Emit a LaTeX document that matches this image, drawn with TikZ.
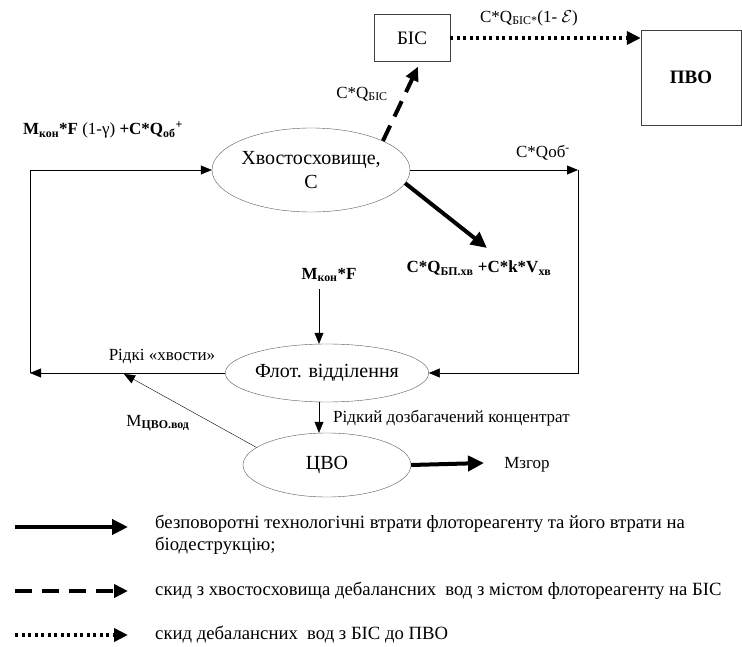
\documentclass[tikz,border=0pt]{standalone}
\usepackage{fontspec}
\setmainfont{Liberation Serif}
\usetikzlibrary{arrows.meta,shapes.geometric}

\begin{document}
\begin{tikzpicture}[x=1pt,y=-1pt,
	font=\fontsize{17}{21}\selectfont,
	>={Triangle[length=11pt,width=9pt]},
	unit/.style={
		% The shape:
		ellipse,
		% The border:
		draw=black!65,
		% Font
		font=\fontsize{20}{24}\selectfont,
		align=center, inner sep=0pt
		},
	plant/.style={
		% The shape:
		rectangle,
		% The border:
		draw=black!75,
		font=\fontsize{19}{23}\selectfont
		},
	lbl/.style={inner sep=0pt},
	key/.style={lbl, font=\fontsize{18.7}{21.5}\selectfont},
	% thick lines of the legend
	loss/.style={line width=4pt, -{Triangle[length=16pt,width=15pt]}},
	discharge/.style={line width=4pt, dash pattern=on 17pt off 10pt, -{Triangle[length=14pt,width=13pt]}},
	overflow/.style={line width=4pt, dash pattern=on 3pt off 3.5pt, -{Triangle[length=14pt,width=13pt]}}
	]

	\useasboundingbox (0,0) rectangle (742,647);

	\node (bis) [plant, minimum width=76pt, minimum height=47pt] at (412,38) {БІС};
	\node (pvo) [plant, minimum width=100pt, minimum height=95pt, font=\fontsize{19}{23}\selectfont\bfseries] at (691,77.5) {ПВО};
	\node (tail) [unit, minimum width=198pt, minimum height=84pt] at (311,170) {Хвостосховище,\\C};
	\node (flot) [unit, minimum width=170pt, minimum height=58pt] at (327,373) {Флот. відділення};
	\node (cvo) [unit, minimum width=168pt, minimum height=64pt] at (327,465) {ЦВО};

	% bends and free ends
	\coordinate (obend) at (578,170);
	\coordinate (leftbend) at (30,373);
	\coordinate (lossend) at (487,248);
	\coordinate (zgorend) at (484,463);
	\coordinate (tailsend) at (124,374);

	% labels
	\node (inflow) [lbl] at (103,130) {\textbf{M\textsubscript{кон}*F} (1-γ) \textbf{+C*Q\textsubscript{об}\textsuperscript{+}}};
	\node (qbis) [lbl] at (362,94) {C*Q\textsubscript{БІС}};
	\node (qpvo) [lbl] at (529,18) {C*Q\textsubscript{БІС*}(1- $\mathcal{E}$)};
	\node (qob) [lbl] at (543,153) {C*Qоб\textsuperscript{-}};
	\node (qloss) [lbl] at (479,268) {\textbf{C*Q\textsubscript{БП.хв} +C*k*V\textsubscript{хв}}};
	\node (mkon) [lbl] at (329,275) {\textbf{M\textsubscript{кон}*F}};
	\node (tails) [lbl] at (162,357) {Рідкі «хвости»};
	\node (mcvo) [lbl] at (158,423) {M\textsubscript{\textbf{ЦВО.вод}}};
	\node (conc) [lbl, anchor=west] at (333,418) {Рідкий дозбагачений концентрат};
	\node (zgor) [lbl] at (527,465) {Мзгор};

	\draw[->] (tail.east) -- (obend); % to the right
	\draw[->] (obend) |- (flot.east);
	\draw[->] (flot.west) -- (leftbend);
	\draw[->] (leftbend) |- (tail.west); % back to the pond
	\draw[->] ([xshift=-10pt,yshift=-7pt]mkon.south) -- ([xshift=-8pt]flot.north);
	\draw[->] ([xshift=-8pt]flot.south) -- ([xshift=-8pt]cvo.north);
	\draw[->] (cvo.166) -- (tailsend);
	\draw[discharge] (tail.22) -- ([xshift=6pt,yshift=-5pt]bis.south);
	\draw[overflow] (bis.east) -- (bis.east -| pvo.west);
	\draw[loss] (tail.-8) -- (lossend);
	\draw[loss] (cvo.east) -- (zgorend);

	% legend
	\coordinate (k1s) at (15,527);
	\coordinate (k1e) at (128,527);
	\coordinate (k2s) at (15,591);
	\coordinate (k2e) at (128,591);
	\coordinate (k3s) at (15,635);
	\coordinate (k3e) at (128,635);
	\draw[loss] (k1s) -- (k1e);
	\draw[discharge] (k2s) -- (k2e);
	\draw[overflow] (k3s) -- (k3e);
	\node (k1t) [key, anchor=north west, align=left] at (155,515) {безповоротні технологічні втрати флотореагенту та його втрати на\\біодеструкцію;};
	\node (k2t) [key, anchor=west] at (155,591) {скид з хвостосховища дебалансних\ \ вод з містом флотореагенту на БІС};
	\node (k3t) [key, anchor=west] at (155,635) {скид дебалансних\ \ вод з БІС до ПВО};

\end{tikzpicture}
\end{document}
